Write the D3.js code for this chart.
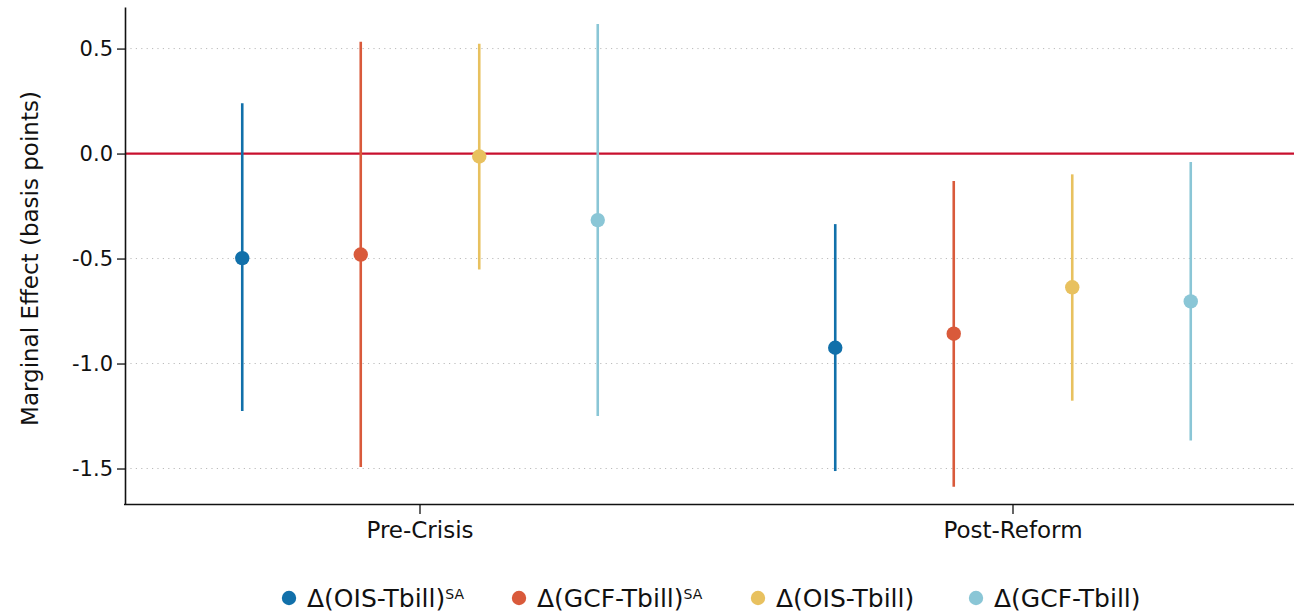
<!DOCTYPE html>
<html>
<head>
<meta charset="utf-8">
<script src="https://cdn.jsdelivr.net/npm/d3@7"></script>
<style>
  body { margin: 0; background: #fff; }
  text { font-family: "DejaVu Sans", sans-serif; fill: #111; }
</style>
</head>
<body>
<div id="chart"></div>
<script>
// periods and series
const periods = ['Pre-Crisis', 'Post-Reform'];
const seriesNames = ['OIS_SA', 'GCF_SA', 'OIS', 'GCF'];
const seriesColors = ['#1170aa', '#d95a3b', '#e8c15f', '#8ac6d6'];

// point estimates, per series: [Pre-Crisis, Post-Reform]
const estimates = [
    [-0.498, -0.925],
    [-0.481, -0.858],
    [-0.014, -0.637],
    [-0.317, -0.704]
];
// confidence interval bounds
const ciLow = [
    [-1.226, -1.512],
    [-1.493, -1.587],
    [-0.552, -1.177],
    [-1.250, -1.366]
];
const ciHigh = [
    [0.240, -0.336],
    [0.533, -0.131],
    [0.523, -0.099],
    [0.617, -0.040]
];
const yTicks = [0.5, 0.0, -0.5, -1.0, -1.5];

let svgWidth = 1294;
let svgHeight = 615;
let margins = { top: 7, left: 125, bottom: 111 };
let chartHeight = svgHeight - margins.top - margins.bottom;

let svg = d3.select('#chart').append('svg')
    .attr('width', svgWidth)
    .attr('height', svgHeight);
let chart = svg.append('g')
    .attr('transform', `translate(${margins.left}, ${margins.top})`);

// scales
let yScale = d3.scaleLinear()
    .domain([-1.669, 0.698])
    .range([chartHeight, 0]);
let xScale = d3.scaleBand()
    .domain(periods)
    .range([-1.5, 1184.5])
    .padding(0);
let offset = d3.scaleBand()
    .domain(seriesNames)
    .range([-237, 237]);

// dotted gridlines
chart.append('g').selectAll('line')
    .data(yTicks.filter(d => d !== 0)).enter()
    .append('line')
    .attr('x1', 0).attr('x2', svgWidth)
    .attr('y1', d => yScale(d)).attr('y2', d => yScale(d))
    .style('stroke', '#bbb')
    .style('stroke-width', 1)
    .style('stroke-dasharray', '1.2,4.2');

// zero line
chart.append('line')
    .attr('x1', 0).attr('x2', svgWidth)
    .attr('y1', yScale(0)).attr('y2', yScale(0))
    .style('stroke', '#c8102e')
    .style('stroke-width', 2.2);

// axes
let yAxis = d3.axisLeft(yScale).tickValues(yTicks).tickSize(8).tickSizeOuter(0);
let xAxis = d3.axisBottom(xScale).tickSize(10).tickSizeOuter(0);

let gy = chart.append('g').call(yAxis);
gy.selectAll('text').style('font-size', '21px').attr('x', -12)
    .text(d => d3.format('.1f')(d).replace('−', '-'));
let gx = chart.append('g').attr('transform', `translate(0, ${chartHeight})`).call(xAxis);
gx.selectAll('text').style('font-size', '23px').attr('y', 18).attr('dy', '0.71em');
[gx, gy].forEach(g => {
    g.attr('font-family', null);
    g.select('.domain').style('stroke', '#111').style('stroke-width', 1.6);
    g.selectAll('.tick line').style('stroke', '#111').style('stroke-width', 1.3);
});

// error bars and points
seriesNames.forEach((s, i) => {
    let rows = periods.map((p, j) => ({
        period: p, est: estimates[i][j], lo: ciLow[i][j], hi: ciHigh[i][j]
    }));
    let cx = d => xScale(d.period) + xScale.bandwidth() / 2 + offset(s) + offset.bandwidth() / 2;
    let g = chart.append('g');
    g.selectAll('line').data(rows).enter().append('line')
        .attr('x1', cx).attr('x2', cx)
        .attr('y1', d => yScale(d.lo)).attr('y2', d => yScale(d.hi))
        .style('stroke', seriesColors[i])
        .style('stroke-width', 2.6);
    g.selectAll('circle').data(rows).enter().append('circle')
        .attr('cx', cx).attr('cy', d => yScale(d.est))
        .attr('r', 7.2)
        .style('fill', seriesColors[i]);
});

// y label
svg.append('text')
    .attr('transform', `translate(38, ${margins.top + yScale(-0.5)}) rotate(-90)`)
    .attr('text-anchor', 'middle')
    .style('font-size', '23px')
    .text('Marginal Effect (basis points)');

// legend
const legendX = [289, 519, 758, 976];
let legend = svg.append('g').attr('transform', 'translate(0, 598)');
seriesNames.forEach((s, i) => {
    let item = legend.append('g').attr('transform', `translate(${legendX[i]}, 0)`);
    item.append('circle').attr('r', 7.2).style('fill', seriesColors[i]);
    let label = item.append('text').attr('x', 18).attr('dy', '0.36em').style('font-size', '25px');
    let base = s.startsWith('OIS') ? 'OIS' : 'GCF';
    label.append('tspan').text(`Δ(${base}-Tbill)`);
    if (s.endsWith('_SA')) {
        label.append('tspan').attr('dy', '-0.6em').style('font-size', '14px').text('SA');
    }
});
</script>
</body>
</html>
